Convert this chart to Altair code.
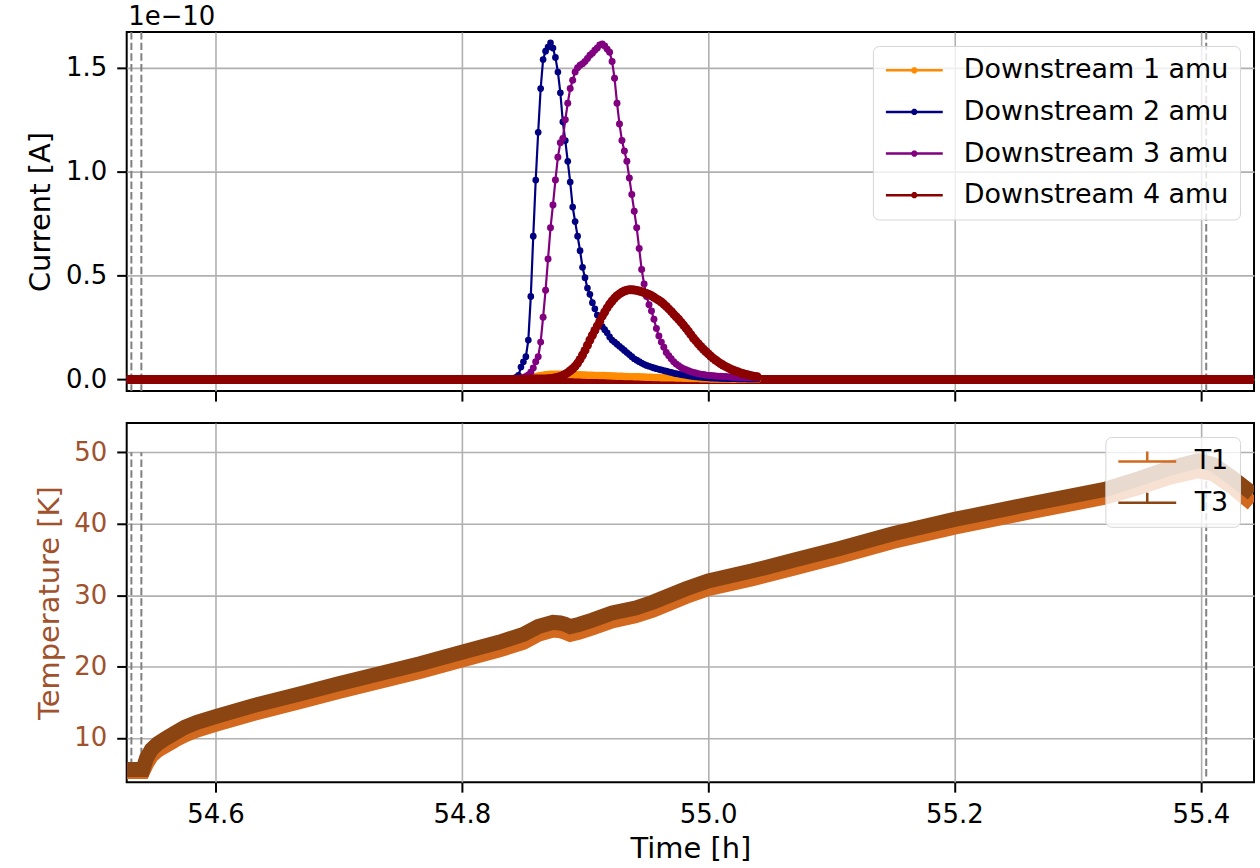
import altair as alt
import pandas as pd

FONT = "DejaVu Sans"

# ---------------- data: currents (units of 1e-10 A) ----------------
t_peak = [
    54.840, 54.842, 54.844, 54.846, 54.848, 54.850, 54.852, 54.854, 54.856, 54.858,
    54.860, 54.862, 54.864, 54.866, 54.868, 54.870, 54.872, 54.874, 54.876, 54.878,
    54.880, 54.882, 54.884, 54.886, 54.888, 54.890, 54.892, 54.894, 54.896, 54.898,
    54.900, 54.902, 54.904, 54.906, 54.908, 54.910, 54.912, 54.914, 54.916, 54.918,
    54.920, 54.922, 54.924, 54.926, 54.928, 54.930, 54.932, 54.934, 54.936, 54.938,
    54.940, 54.942, 54.944, 54.946, 54.948, 54.950, 54.952, 54.954, 54.956, 54.958,
    54.960, 54.962, 54.964, 54.966, 54.968, 54.970, 54.972, 54.974, 54.976, 54.978,
    54.980, 54.982, 54.984, 54.986, 54.988, 54.990, 54.992, 54.994, 54.996, 54.998,
    55.000, 55.002, 55.004, 55.006, 55.008, 55.010, 55.012, 55.014, 55.016, 55.018,
    55.020, 55.022, 55.024, 55.026, 55.028, 55.030, 55.032, 55.034, 55.036, 55.038,
    55.040,
]

cur_1amu = [
    0.000, 0.000, 0.001, 0.001, 0.002, 0.003, 0.004, 0.006, 0.008, 0.011,
    0.014, 0.017, 0.019, 0.021, 0.023, 0.024, 0.025, 0.025, 0.025, 0.025,
    0.025, 0.025, 0.025, 0.024, 0.024, 0.024, 0.023, 0.023, 0.023, 0.022,
    0.022, 0.021, 0.021, 0.021, 0.020, 0.020, 0.019, 0.019, 0.019, 0.018,
    0.018, 0.017, 0.017, 0.016, 0.016, 0.016, 0.015, 0.015, 0.014, 0.014,
    0.013, 0.013, 0.013, 0.012, 0.012, 0.011, 0.011, 0.011, 0.010, 0.010,
    0.010, 0.009, 0.009, 0.009, 0.008, 0.008, 0.008, 0.007, 0.007, 0.007,
    0.006, 0.006, 0.006, 0.005, 0.005, 0.005, 0.005, 0.004, 0.004, 0.004,
    0.004, 0.003, 0.003, 0.003, 0.003, 0.002, 0.002, 0.002, 0.002, 0.002,
    0.001, 0.001, 0.001, 0.001, 0.001, 0.001, 0.001, 0.001, 0.001, 0.001,
    0.001,
]

cur_2amu = [
    0.005, 0.006, 0.010, 0.020, 0.060, 0.085, 0.110, 0.190, 0.400, 0.690,
    0.960, 1.190, 1.400, 1.540, 1.580, 1.600, 1.620, 1.595, 1.550, 1.480,
    1.380, 1.240, 1.150, 1.050, 0.950, 0.830, 0.760, 0.690, 0.620, 0.540,
    0.490, 0.440, 0.410, 0.370, 0.340, 0.310, 0.280, 0.255, 0.240, 0.225,
    0.205, 0.190, 0.180, 0.170, 0.160, 0.150, 0.140, 0.130, 0.120, 0.110,
    0.100, 0.093, 0.086, 0.079, 0.073, 0.068, 0.064, 0.060, 0.056, 0.052,
    0.049, 0.046, 0.043, 0.040, 0.037, 0.034, 0.031, 0.028, 0.026, 0.024,
    0.022, 0.020, 0.018, 0.016, 0.015, 0.013, 0.012, 0.011, 0.010, 0.009,
    0.008, 0.007, 0.007, 0.006, 0.006, 0.005, 0.005, 0.005, 0.004, 0.004,
    0.004, 0.004, 0.003, 0.003, 0.003, 0.003, 0.002, 0.002, 0.002, 0.002,
    0.002,
]

cur_3amu = [
    0.003, 0.003, 0.004, 0.005, 0.007, 0.010, 0.015, 0.022, 0.035, 0.056,
    0.085, 0.110, 0.180, 0.300, 0.430, 0.580, 0.730, 0.840, 0.960, 1.070,
    1.140, 1.160, 1.250, 1.330, 1.400, 1.440, 1.480, 1.500, 1.512, 1.520,
    1.530, 1.545, 1.560, 1.570, 1.585, 1.595, 1.610, 1.615, 1.605, 1.590,
    1.575, 1.530, 1.450, 1.330, 1.230, 1.150, 1.100, 1.050, 0.970, 0.890,
    0.810, 0.730, 0.630, 0.530, 0.460, 0.400, 0.360, 0.330, 0.290, 0.245,
    0.210, 0.180, 0.155, 0.130, 0.115, 0.100, 0.085, 0.075, 0.066, 0.058,
    0.052, 0.047, 0.042, 0.038, 0.034, 0.031, 0.028, 0.026, 0.024, 0.022,
    0.020, 0.019, 0.018, 0.017, 0.016, 0.016, 0.015, 0.014, 0.013, 0.012,
    0.011, 0.011, 0.010, 0.010, 0.009, 0.009, 0.008, 0.008, 0.008, 0.007,
    0.007,
]

cur_4amu = [
    0.000, 0.000, 0.000, 0.001, 0.001, 0.001, 0.001, 0.002, 0.002, 0.002,
    0.002, 0.003, 0.003, 0.003, 0.003, 0.004, 0.005, 0.006, 0.008, 0.011,
    0.015, 0.020, 0.026, 0.033, 0.042, 0.052, 0.064, 0.079, 0.097, 0.118,
    0.140, 0.165, 0.190, 0.213, 0.236, 0.258, 0.280, 0.305, 0.325, 0.345,
    0.363, 0.378, 0.392, 0.403, 0.412, 0.420, 0.426, 0.430, 0.432, 0.432,
    0.431, 0.429, 0.426, 0.422, 0.418, 0.414, 0.409, 0.403, 0.396, 0.388,
    0.381, 0.373, 0.363, 0.352, 0.340, 0.328, 0.315, 0.302, 0.290, 0.276,
    0.262, 0.247, 0.232, 0.216, 0.200, 0.186, 0.172, 0.159, 0.147, 0.135,
    0.124, 0.113, 0.103, 0.094, 0.085, 0.077, 0.070, 0.063, 0.057, 0.051,
    0.046, 0.041, 0.037, 0.033, 0.029, 0.026, 0.023, 0.020, 0.017, 0.015,
    0.013,
]

series_names = ["Downstream 1 amu", "Downstream 2 amu", "Downstream 3 amu", "Downstream 4 amu"]
series_colors = ["#ff8c00", "#000080", "#800080", "#8b0000"]
series_dot_size = [56, 45, 49, 81]
series_band_width = [7.5, 6.7, 7.0, 9.0]
baseline_current = [0.0, 0.0, 0.0, 0.0]

# ---------------- data: temperatures (K) ----------------
t_temp = [
    54.528, 54.541, 54.544, 54.548, 54.553, 54.560, 54.567, 54.575, 54.585, 54.600,
    54.630, 54.669, 54.700, 54.733, 54.766, 54.800, 54.830, 54.850, 54.862, 54.874,
    54.880, 54.884, 54.888, 54.895, 54.906, 54.922, 54.941, 54.955, 54.982, 55.000,
    55.036, 55.070, 55.106, 55.150, 55.200, 55.260, 55.322, 55.350, 55.375, 55.398,
    55.410, 55.425, 55.442,
]
temp_T1 = [
    5.3, 5.3, 6.4, 7.5, 8.3, 9.0, 9.7, 10.4, 11.1, 11.9,
    13.4, 15.1, 16.5, 17.9, 19.3, 20.9, 22.3, 23.4, 24.5, 25.1,
    25.0, 24.8, 24.5, 24.8, 25.4, 26.4, 27.1, 27.9, 29.8, 30.9,
    32.3, 33.8, 35.4, 37.5, 39.5, 41.6, 43.7, 45.1, 46.5, 47.4,
    47.0, 45.2, 42.8,
]
temp_T3 = [
    5.6, 5.6, 7.2, 8.4, 9.2, 10.0, 10.7, 11.5, 12.2, 13.0,
    14.5, 16.2, 17.6, 19.0, 20.4, 22.0, 23.4, 24.5, 25.6, 26.2,
    26.1, 25.9, 25.6, 25.9, 26.5, 27.5, 28.2, 29.0, 30.9, 32.0,
    33.4, 34.9, 36.5, 38.6, 40.6, 42.7, 44.8, 46.3, 47.8, 48.8,
    48.3, 46.5, 44.2,
]
temp_names = ["T1", "T3"]
temp_colors = ["#d2691e", "#8b4513"]

# vertical markers
marker_times = [54.5317, 54.5398, 55.4044]
marker_T_low = [4.6, 4.6, 4.6]
marker_T_high = [50.0, 50.0, 50.0]

# axis limits / ticks
x_limits = [54.5279, 55.4432]
cur_limits = [-0.0557, 1.6726]
temp_limits = [3.82, 54.09]
x_ticks = [54.6, 54.8, 55.0, 55.2, 55.4]
cur_ticks = [0.0, 0.5, 1.0, 1.5]
temp_ticks = [10, 20, 30, 40, 50]

# ---------------- tables ----------------
cur_rows = []
for name, vals in zip(series_names, [cur_1amu, cur_2amu, cur_3amu, cur_4amu]):
    for t, v in zip(t_peak, vals):
        cur_rows.append({"time": t, "current": v, "series": name})
cur_df = pd.DataFrame(cur_rows)

base_df = pd.DataFrame({
    "series": series_names,
    "t0": [x_limits[0]] * 4,
    "t1": [x_limits[1]] * 4,
    "current": baseline_current,
})

temp_rows = []
for name, vals in zip(temp_names, [temp_T1, temp_T3]):
    for t, v in zip(t_temp, vals):
        temp_rows.append({"time": t, "temp": v, "sensor": name})
temp_df = pd.DataFrame(temp_rows)

mark_df = pd.DataFrame({"time": marker_times, "lo": marker_T_low, "hi": marker_T_high})

# ---------------- scales / guides ----------------
xs = alt.Scale(domain=x_limits, nice=False, zero=False)
cur_scale = alt.Scale(domain=cur_limits, nice=False, zero=False)
temp_scale = alt.Scale(domain=temp_limits, nice=False, zero=False)
cur_color = alt.Scale(domain=series_names, range=series_colors)
temp_color = alt.Scale(domain=temp_names, range=temp_colors)

oct_outer = ("M0.185,0.077L0.077,0.185L-0.077,0.185L-0.185,0.077L-0.185,-0.077"
             "L-0.077,-0.185L0.077,-0.185L0.185,-0.077Z")
oct_inner = ("M0.07,0.03L0.03,0.07L-0.03,0.07L-0.07,0.03L-0.07,-0.03"
             "L-0.03,-0.07L0.03,-0.07L0.07,-0.03Z")

top_legend = alt.Legend(
    title=None, orient="top-right", offset=14,
    symbolType="M-2.85,0L2.85,0" + oct_outer + oct_inner,
    symbolSize=400, symbolStrokeWidth=2.5, symbolOffset=17,
    labelFontSize=27, labelFont=FONT, labelColor="black",
    labelLimit=400, padding=11, rowPadding=13.7, labelOffset=36,
    fillColor="rgba(255,255,255,0.8)", strokeColor="#d6d6d6", cornerRadius=6,
)
bot_legend = alt.Legend(
    title=None, orient="top-right", offset=14,
    symbolType="M-2.9,0L2.9,0M0,0L0,-1.0",
    symbolSize=400, symbolStrokeWidth=2.5, symbolOffset=17.5,
    labelFontSize=27, labelFont=FONT, labelColor="black",
    labelLimit=400, padding=11, rowPadding=12.3, labelOffset=34,
    fillColor="rgba(255,255,255,0.8)", strokeColor="#d6d6d6", cornerRadius=6,
)

x_top = alt.X("time:Q", scale=xs,
              axis=alt.Axis(values=x_ticks, labels=False, title=None))
x_bot = alt.X("time:Q", scale=xs,
              axis=alt.Axis(values=x_ticks, format=".1f", title="Time [h]",
                            labelPadding=9, titlePadding=8))
y_cur = alt.Y("current:Q", scale=cur_scale,
              axis=alt.Axis(values=cur_ticks, format=".1f", title="Current [A]",
                            labelPadding=10, titlePadding=9.6))
y_temp = alt.Y("temp:Q", scale=temp_scale,
               axis=alt.Axis(values=temp_ticks, format="d", title="Temperature [K]",
                             labelPadding=10, titlePadding=9.6,
                             labelColor="#a0522d", titleColor="#a0522d"))

W, H = 1130, 360

# ---------------- top panel ----------------
dash_top = alt.Chart(mark_df).mark_rule(
    color="#808080", strokeDash=[7.5, 3.2], strokeWidth=2
).encode(x=alt.X("time:Q", scale=xs))

top_layers = [dash_top]
for name, col, bw in zip(series_names, series_colors, series_band_width):
    top_layers.append(
        alt.Chart(base_df).transform_filter(alt.datum.series == name)
        .mark_rule(strokeWidth=bw, color=col)
        .encode(x=alt.X("t0:Q", scale=xs), x2="t1:Q",
                y=alt.Y("current:Q", scale=cur_scale))
    )
for name, col, size in zip(series_names, series_colors, series_dot_size):
    sub = alt.Chart(cur_df).transform_filter(alt.datum.series == name)
    top_layers.append(
        sub.mark_line(strokeWidth=2.2, clip=True).encode(
            x=x_top, y=y_cur,
            color=alt.Color("series:N", scale=cur_color, legend=top_legend),
        )
    )
    top_layers.append(
        sub.mark_circle(size=size, opacity=1, clip=True, color=col).encode(
            x=x_top, y=y_cur,
        )
    )

exp_text = alt.Chart(pd.DataFrame({"label": ["1e\u221210"]})).mark_text(
    align="left", baseline="alphabetic", fontSize=26, font=FONT, color="black"
).encode(text="label:N", x=alt.value(1.5), y=alt.value(-6.6))
top_layers.append(exp_text)

top = alt.layer(*top_layers).properties(width=W, height=H)

# ---------------- bottom panel ----------------
dash_bot = alt.Chart(mark_df).mark_rule(
    color="#808080", strokeDash=[7.5, 3.2], strokeWidth=2
).encode(
    x=alt.X("time:Q", scale=xs),
    y=alt.Y("lo:Q", scale=temp_scale), y2="hi:Q",
)

bot_layers = [dash_bot]
for name in temp_names:
    bot_layers.append(
        alt.Chart(temp_df).transform_filter(alt.datum.sensor == name)
        .mark_line(strokeWidth=15, clip=True)
        .encode(
            x=x_bot, y=y_temp,
            color=alt.Color("sensor:N", scale=temp_color, legend=bot_legend),
        )
    )
bottom = alt.layer(*bot_layers).properties(width=W, height=H)

chart = (
    alt.vconcat(top, bottom, spacing=32, bounds="flush")
    .resolve_scale(color="independent")
    .properties(padding={"left": 26, "top": 2, "right": 0, "bottom": 0})
    .configure(font=FONT)
    .configure_view(stroke="black", strokeWidth=2)
    .configure_axis(
        labelFont=FONT, titleFont=FONT, labelFontSize=26, titleFontSize=29,
        titleFontWeight="normal", labelColor="black", titleColor="black",
        tickColor="black", tickWidth=2, tickSize=10, domain=False,
        grid=True, gridColor="#b0b0b0", gridWidth=1.6,
    )
)

chart.save("out.html", embed_options={"renderer": "svg", "actions": False})
